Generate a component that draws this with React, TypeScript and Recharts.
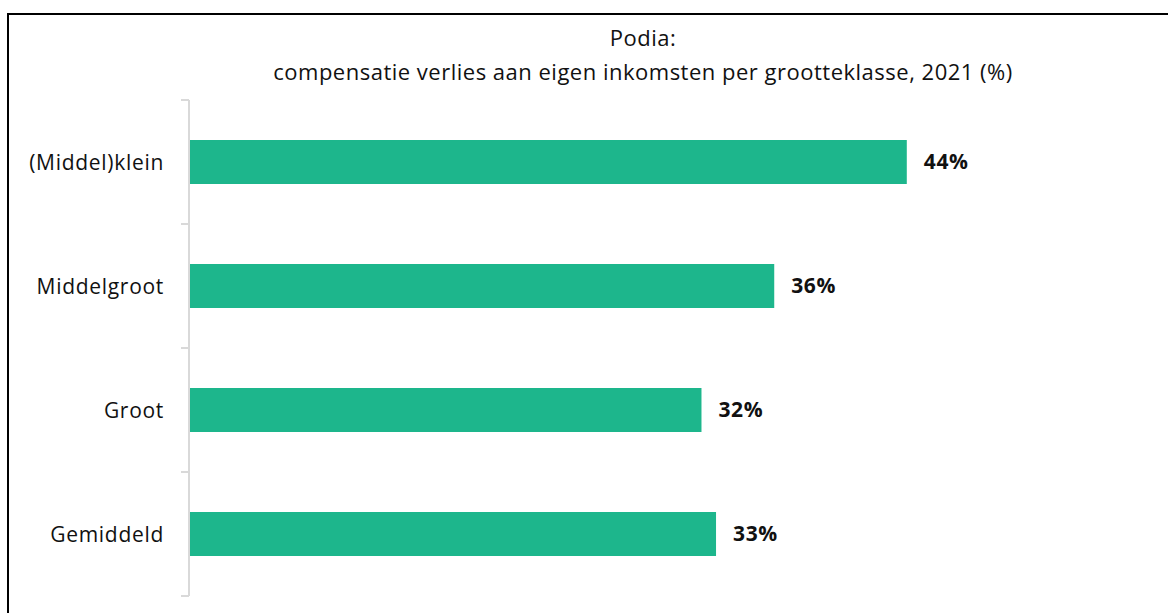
import React from 'react';
import { BarChart, Bar, XAxis, YAxis, LabelList } from 'recharts';

const categories = ['(Middel)klein', 'Middelgroot', 'Groot', 'Gemiddeld'];
const values = [44.4, 36.2, 31.7, 32.6];
const titleLines = ['Podia:', 'compensatie verlies aan eigen inkomsten per grootteklasse, 2021 (%)'];

const FONT = '"Open Sans", Lato, sans-serif';
const BAR_COLOR = '#1DB68C';
const AXIS_COLOR = '#D9D9D9';
const TICK_SIZE = 8;
const TICK_MARGIN = 17;

const chartData = categories.map((name, i) => ({ name, value: values[i] }));

// label + boundary tick lines (ticks sit between categories, not at centres)
const CategoryTick = (props: any) => {
  const { x, y, payload, index, visibleTicksCount } = props;
  const half = payload?.offset ?? 0;
  const x1 = x + TICK_MARGIN;
  const x2 = x1 + TICK_SIZE;
  const isLast = index === visibleTicksCount - 1;
  return (
    <g>
      <text
        x={x}
        y={y}
        textAnchor="end"
        dominantBaseline="central"
        fontFamily={FONT}
        fontSize={21}
        letterSpacing={0.7}
        fill="#111"
      >
        {payload.value}
      </text>
      <line x1={x1} x2={x2} y1={y - half} y2={y - half} stroke={AXIS_COLOR} strokeWidth={2} />
      {isLast && (
        <line x1={x1} x2={x2} y1={y + half} y2={y + half} stroke={AXIS_COLOR} strokeWidth={2} />
      )}
    </g>
  );
};

export default function App() {
  return (
    <div
      style={{
        position: 'fixed',
        top: 0,
        left: 0,
        width: 1168,
        height: 613,
        overflow: 'hidden',
        background: '#fff',
      }}
    >
      <div
        style={{
          position: 'absolute',
          left: 7,
          top: 13,
          width: 1300,
          height: 700,
          borderTop: '2px solid #000',
          borderLeft: '2px solid #000',
        }}
      />
      <div
        style={{
          position: 'absolute',
          left: 143,
          top: 20,
          width: 1000,
          textAlign: 'center',
          fontFamily: FONT,
          fontSize: 22,
          letterSpacing: 0.5,
          lineHeight: '34px',
          color: '#111',
        }}
      >
        {titleLines.map((t) => (
          <div key={t}>{t}</div>
        ))}
      </div>
      <div style={{ position: 'absolute', left: 0, top: 0 }}>
        <BarChart
          width={1168}
          height={613}
          data={chartData}
          layout="vertical"
          margin={{ top: 100, right: 9, bottom: 17, left: 0 }}
        >
          <XAxis type="number" domain={[0, 60]} hide />
          <YAxis
            type="category"
            dataKey="name"
            width={189}
            tickSize={TICK_SIZE}
            tickMargin={TICK_MARGIN}
            tickLine={false}
            axisLine={{ stroke: AXIS_COLOR, strokeWidth: 2 }}
            tick={<CategoryTick />}
            interval={0}
          />
          <Bar dataKey="value" fill={BAR_COLOR} barSize={44} isAnimationActive={false}>
            <LabelList
              dataKey="value"
              position="right"
              offset={17}
              formatter={(v: any) => `${Math.round(Number(v))}%`}
              style={{ fontFamily: FONT, fontSize: 21, fontWeight: 700, letterSpacing: 0.6, fill: '#111' }}
            />
          </Bar>
        </BarChart>
      </div>
    </div>
  );
}
